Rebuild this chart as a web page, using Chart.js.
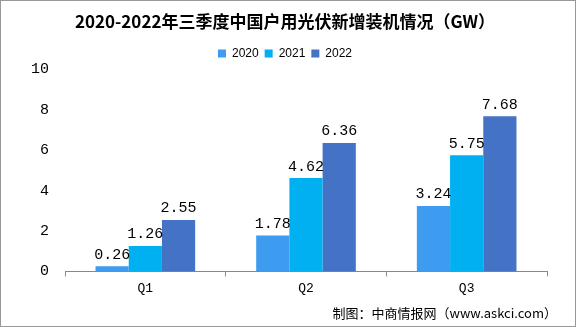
<!DOCTYPE html>
<html>
<head>
<meta charset="utf-8">
<script src="https://cdn.jsdelivr.net/npm/chart.js@4.4.0/dist/chart.umd.min.js"></script>
<style>
  html, body { margin: 0; padding: 0; background: #fff; }
  #wrap { position: relative; width: 576px; height: 327px; box-sizing: border-box; border: 1px solid #999; }
  #note { position: absolute; right: 18px; top: 302px; font: 13px "Noto Sans CJK SC", sans-serif; color: #000; }
</style>
</head>
<body>
<div id="wrap">
  <canvas id="myChart" width="574" height="325"></canvas>
  <div id="note">制图：中商情报网（www.askci.com）</div>
</div>
<script>
const categories = ["Q1", "Q2", "Q3"];
const years = ["2020", "2021", "2022"];
const values2020 = [0.26, 1.78, 3.24];
const values2021 = [1.26, 4.62, 5.75];
const values2022 = [2.55, 6.36, 7.68];
const yTicks = [0, 2, 4, 6, 8, 10];

const colors = ["rgb(61, 155, 240)", "rgb(0, 176, 240)", "rgb(68, 114, 196)"];
const monoFont = "'Liberation Mono', 'DejaVu Sans Mono', monospace";

// draw the value above each bar
const barLabels = {
  id: "barLabels",
  afterDatasetsDraw(chart) {
    const ctx = chart.ctx;
    ctx.save();
    ctx.font = "15px " + monoFont;
    ctx.fillStyle = "#000";
    ctx.textAlign = "center";
    ctx.textBaseline = "bottom";
    chart.data.datasets.forEach((ds, i) => {
      chart.getDatasetMeta(i).data.forEach((bar, j) => {
        ctx.fillText(ds.data[j].toFixed(2), bar.x, bar.y - 4);
      });
    });
    ctx.restore();
  },
};

const data = {
  labels: categories,
  datasets: [
    { label: years[0], data: values2020, backgroundColor: colors[0] },
    { label: years[1], data: values2021, backgroundColor: colors[1] },
    { label: years[2], data: values2022, backgroundColor: colors[2] },
  ],
};

const config = {
  type: "bar",
  data: data,
  options: {
    responsive: false,
    animation: false,
    categoryPercentage: 0.62,
    barPercentage: 1,
    layout: { padding: { left: 22, right: 28, top: 6, bottom: 26 } },
    plugins: {
      title: {
        display: true,
        text: "2020-2022年三季度中国户用光伏新增装机情况（GW）",
        color: "#000",
        font: { family: "'Noto Sans CJK SC', sans-serif", size: 17, weight: "bold" },
        padding: { top: 4, bottom: 10 },
      },
      legend: {
        display: true,
        labels: {
          boxWidth: 8,
          boxHeight: 8,
          padding: 6,
          color: "#000",
          font: { family: "'Liberation Sans', sans-serif", size: 12 },
        },
      },
      tooltip: { enabled: false },
    },
    scales: {
      x: {
        grid: { display: true, drawOnChartArea: false, offset: true, tickLength: 5, color: "#888" },
        border: { display: true, color: "#888" },
        ticks: { color: "#000", font: { family: monoFont, size: 13 }, padding: 4 },
      },
      y: {
        min: yTicks[0],
        max: yTicks[yTicks.length - 1],
        grid: { display: false },
        border: { display: false },
        afterBuildTicks: (axis) => { axis.ticks = yTicks.map((v) => ({ value: v })); },
        ticks: { color: "#000", font: { family: monoFont, size: 15 }, padding: 8 },
      },
    },
  },
  plugins: [barLabels],
};

const cntx = document.getElementById("myChart").getContext("2d");
const myChart = new Chart(cntx, config);
</script>
</body>
</html>
